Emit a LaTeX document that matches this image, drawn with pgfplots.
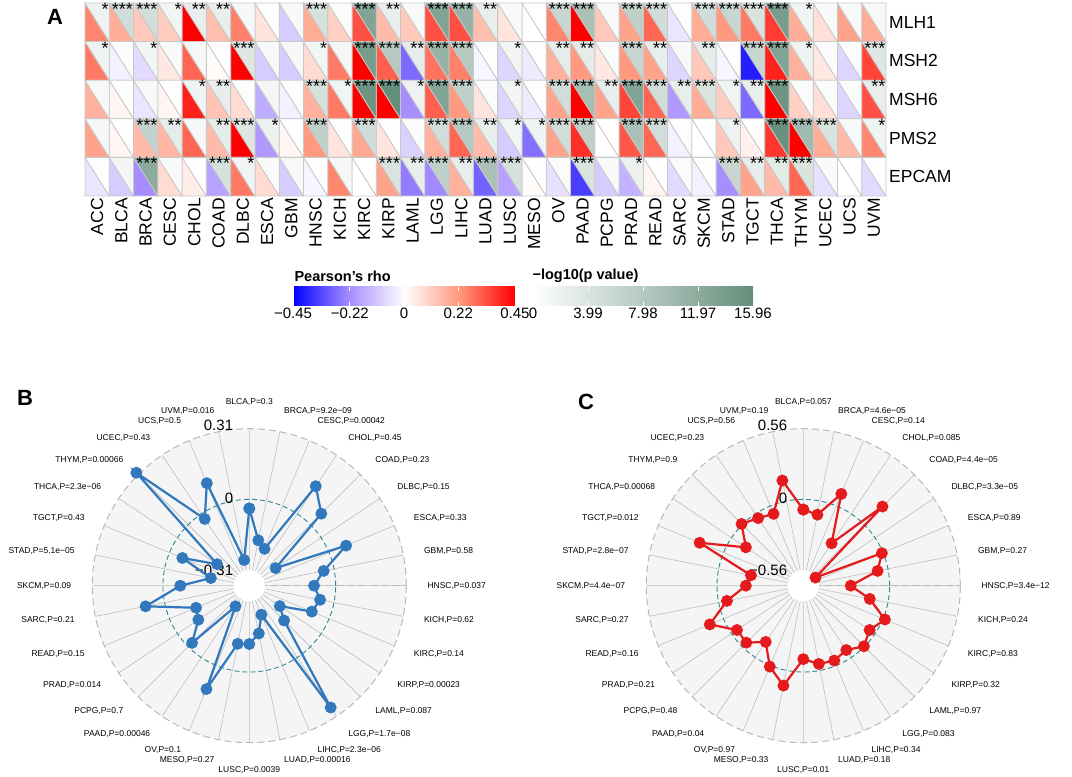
\documentclass[border=0pt]{standalone}
\usepackage{fontspec}
\setmainfont{Liberation Sans}
\usepackage{pgfplots}
\pgfplotsset{compat=1.18}
\usepackage{pgfplotstable}
\usepgfplotslibrary{polar}

\definecolor{gridgray}{RGB}{200,200,200}
\definecolor{radblue}{RGB}{49,120,189}
\definecolor{radred}{RGB}{228,26,28}
\definecolor{radteal}{RGB}{45,135,145}
\definecolor{radbg}{RGB}{245,245,245}
\definecolor{spoke}{RGB}{190,190,190}

% one heatmap cell is 24.27pt x 38.6pt
\pgfdeclareplotmark{lowtri}{%
  \pgfpathmoveto{\pgfqpoint{-12.135pt}{19.3pt}}%
  \pgfpathlineto{\pgfqpoint{-12.135pt}{-19.3pt}}%
  \pgfpathlineto{\pgfqpoint{12.135pt}{-19.3pt}}%
  \pgfpathclose\pgfusepathqfillstroke}
\pgfdeclareplotmark{uptri}{%
  \pgfpathmoveto{\pgfqpoint{-12.135pt}{19.3pt}}%
  \pgfpathlineto{\pgfqpoint{12.135pt}{19.3pt}}%
  \pgfpathlineto{\pgfqpoint{12.135pt}{-19.3pt}}%
  \pgfpathclose\pgfusepathqfillstroke}

% r = Pearson's rho, p = -log10(p), s = number of stars
% 1 MLH1, 2 MSH2, 3 MSH6, 4 PMS2, 5 EPCAM
\pgfplotstableread{
name r1 r2 r3 r4 r5 p1 p2 p3 p4 p5 s1 s2 s3 s4 s5
ACC   0.25  0.27  0.17  0.20 -0.05  1.8 1.8 0.9 1.0 0.3  1 1 0 0 0
BLCA  0.18 -0.03  0.02  0.02 -0.10  5.0 0.4 0.2 0.2 1.3  3 0 0 0 0
BRCA  0.12 -0.07 -0.05  0.15 -0.22  5.0 1.5 0.9 6.5 12   3 1 0 3 3
CESC  0.11  0.05  0.02  0.16  0.08  1.5 0.6 0.2 2.8 0.6  1 0 0 2 0
CHOL  0.45  0.30  0.40  0.30  0.04  2.5 1.0 1.6 1.0 0.1  2 0 1 0 0
COAD  0.14  0.01  0.13  0.15 -0.18  2.5 0.1 2.5 2.8 4.5  2 0 2 2 3
DLBC  0.26  0.45  0.08  0.45  0.27  1.0 3.5 0.3 3.5 1.5  0 3 0 3 1
ESCA  0.06 -0.10 -0.16 -0.20  0.08  0.3 0.9 1.3 2.0 0.6  0 0 0 1 0
GBM  -0.10 -0.10 -0.03  0.02 -0.10  0.8 0.9 0.3 0.2 0.9  0 0 0 0 0
HNSC  0.18  0.08  0.17  0.22 -0.02  4.5 1.5 4.5 7.0 0.2  3 1 3 3 0
KICH  0.10  0.27  0.27  0.06  0.25  0.5 1.2 1.6 0.3 1.0  0 0 1 0 0
KIRC  0.33  0.45  0.45  0.19  0.00  13  14  15  5.0 0.0  3 3 3 3 0
KIRP  0.15  0.31  0.45  0.06  0.20  2.5 8.0 15.96 0.2 4.0  2 3 3 0 3
LAML  0.12 -0.28 -0.22 -0.09 -0.25  0.8 2.8 1.8 0.5 2.5  0 2 1 0 2
LGG   0.33  0.28  0.31  0.17 -0.23  13  11  13  5.0 7.0  3 3 3 3 3
LIHC  0.33  0.26  0.22  0.30  0.17  11  8.0 7.0 8.0 2.5  3 3 3 3 2
LUAD  0.14 -0.02  0.06  0.15 -0.29  2.5 0.3 0.5 2.5 9.0  2 0 0 2 3
LUSC  0.06 -0.08 -0.08 -0.10 -0.18  0.6 1.5 1.5 1.6 4.5  0 1 1 1 3
MESO  0.00 -0.04 -0.04 -0.27  0.01  0.0 0.3 0.2 1.7 0.1  0 0 0 1 0
OV    0.25  0.17  0.20  0.20 -0.06  6.0 2.8 5.0 5.0 0.5  3 2 3 3 0
PAAD  0.45  0.22  0.45  0.38 -0.35  9.0 2.8 9.5 7.0 4.0  3 2 3 3 3
PCPG  0.12  0.05  0.20  0.00 -0.10  0.8 0.5 2.5 0.0 0.8  0 0 2 0 0
PRAD  0.20  0.22  0.35  0.32 -0.15  7.0 6.0 13  9.0 2.0  3 3 3 3 1
READ  0.30  0.20  0.30  0.30  0.02  5.0 2.5 5.0 5.0 0.1  3 2 3 3 0
SARC -0.05 -0.08 -0.20 -0.03 -0.07  0.3 0.9 2.5 0.3 0.5  0 0 2 0 0
SKCM  0.18  0.12  0.18  0.00 -0.03  5.0 2.8 4.0 0.0 0.3  3 2 3 0 0
STAD  0.22 -0.02  0.11  0.12 -0.22  6.0 0.2 1.6 1.8 6.0  3 0 1 1 3
TGCT  0.27 -0.40 -0.28  0.03  0.20  4.0 6.0 2.5 0.2 2.6  3 3 2 0 2
THCA  0.36  0.40  0.45  0.37  0.15  14  13  15  15.5 3.0  3 3 3 3 2
THYM  0.18  0.17  0.10  0.45  0.30  1.6 1.8 0.5 10  4.0  1 1 0 3 3
UCEC  0.07  0.05  0.07  0.18 -0.06  0.6 0.5 0.5 4.0 0.6  0 0 0 3 0
UCS   0.20 -0.08 -0.08  0.15  0.00  0.8 0.3 0.4 0.8 0.0  0 0 0 0 0
UVM   0.18  0.35  0.33  0.25 -0.07  0.9 3.5 2.5 1.6 0.3  0 3 2 1 0
}\heat

% radar data: angle (deg), rho ; first row repeated to close the polygon
\pgfplotstableread{
ang rho
90     -0.040
78.75  -0.176
67.5   -0.204
56.25   0.146
45      0.068
33.75  -0.240
22.5    0.081
11.25  -0.046
0      -0.095
348.75 -0.062
337.5  -0.082
326.25 -0.218
315    -0.163
303.75  0.264
292.5  -0.241
281.25 -0.165
270    -0.123
258.75 -0.119
247.5   0.112
236.25 -0.270
225    -0.024
213.75 -0.110
202.5  -0.126
191.25  0.085
180    -0.076
168.75 -0.207
157.5  -0.061
146.25 -0.209
135     0.322
123.75 -0.027
112.5   0.108
101.25 -0.264
90     -0.040
}\radB

\pgfplotstableread{
ang rho
90     -0.081
78.75  -0.110
67.5    0.103
56.25  -0.280
45      0.203
33.75  -0.568
22.5   -0.010
11.25  -0.084
0      -0.308
348.75 -0.147
337.5   0.016
326.25 -0.052
315    -0.005
303.75 -0.071
292.5  -0.042
281.25 -0.052
270    -0.102
258.75  0.123
247.5   0.010
236.25 -0.148
225    -0.046
213.75 -0.052
202.5   0.118
191.25 -0.067
180    -0.229
168.75 -0.261
157.5   0.205
146.25 -0.137
135     0.008
123.75 -0.040
112.5  -0.068
101.25  0.166
90     -0.081
}\radC

\pgfplotsset{
  radar/.style={
    scale only axis, width=314pt, height=314pt,
    xmin=0, xmax=360, ymin=0,
    xtick={0,11.25,22.5,33.75,45,56.25,67.5,78.75,90,101.25,112.5,123.75,135,146.25,157.5,168.75,180,191.25,202.5,213.75,225,236.25,247.5,258.75,270,281.25,292.5,303.75,315,326.25,337.5,348.75},
    xticklabels={}, yticklabels={},
    xmajorgrids, x grid style={spoke, line width=0.6pt},
    ymajorgrids, y grid style={radteal, line width=0.9pt, dash pattern=on 5pt off 3pt},
    axis line style={gray!55, line width=1pt, dash pattern=on 7pt off 4pt},
    major tick length=0pt,
    axis background/.style={fill=radbg},
    clip=false,
  },
}
\tikzset{
  rlab/.style={anchor=east, xshift=-16pt, font=\fontsize{15}{15}\selectfont, inner sep=0pt},
  clab/.style={font=\fontsize{8.5}{8.5}\selectfont, inner sep=0pt},
}

\newcommand\stars{\pgfmathfloattoint{\pgfplotspointmeta}\ifcase\pgfmathresult\or*\or**\or***\fi}

\begin{document}
\begin{tikzpicture}
\useasboundingbox (0,0) rectangle (1072pt,777pt);

% ---------- A: rho triangles ----------
\begin{axis}[
  at={(85pt,581pt)}, anchor=south west,
  scale only axis, width=801pt, height=193pt,
  xmin=-0.5, xmax=32.5, ymin=-0.5, ymax=4.5,
  axis line style={draw=none}, major tick length=0pt,
  xtick={0,...,32}, xticklabels from table={\heat}{name},
  xticklabel style={rotate=90, anchor=east, font=\fontsize{17.5}{17.5}\selectfont, inner sep=2pt},
  ytick={0,...,4}, yticklabels={EPCAM,PMS2,MSH6,MSH2,MLH1},
  yticklabel pos=right,
  yticklabel style={anchor=west, font=\fontsize{17.5}{17.5}\selectfont, inner sep=3pt},
  colormap={rb}{rgb255(0cm)=(0,0,255) rgb255(1cm)=(165,140,255) rgb255(2cm)=(255,255,255) rgb255(3cm)=(255,152,125) rgb255(4cm)=(255,0,0)},
  point meta min=-0.45, point meta max=0.45,
  colorbar horizontal, colorbar/width=19pt,
  colorbar style={
    at={(parent axis.south west)}, anchor=north west, xshift=208pt, yshift=-82pt,
    scale only axis, width=222pt, height=19pt,
    xtick={-0.45,-0.22,0,0.22,0.45},
    xticklabels={−0.45,−0.22,0,0.22,0.45},
    xticklabel style={font=\fontsize{15}{15}\selectfont, inner sep=2pt},
    axis line style={draw=none},
    xtick style={draw=white, line width=0.8pt},
    major tick length=4pt, tick align=inside,
  },
  clip=false,
]
\pgfplotsinvokeforeach{1,...,5}{
  \addplot[scatter, only marks, mark=lowtri, point meta=explicit,
    mark options={line width=0.8pt},
    scatter/use mapped color={draw=gridgray, fill=mapped color}]
    table[x expr=\coordindex, y expr={5-#1}, meta=r#1] {\heat};
}
\end{axis}

% ---------- A: -log10(p) triangles and stars ----------
\begin{axis}[
  at={(85pt,581pt)}, anchor=south west,
  scale only axis, width=801pt, height=193pt,
  xmin=-0.5, xmax=32.5, ymin=-0.5, ymax=4.5,
  axis line style={draw=none}, xtick=\empty, ytick=\empty,
  colormap={gr}{rgb255(0cm)=(255,255,255) rgb255(1cm)=(181,201,192) rgb255(2cm)=(100,142,124)},
  point meta min=0, point meta max=15.96,
  colorbar horizontal, colorbar/width=19pt,
  colorbar style={
    at={(parent axis.south west)}, anchor=north west, xshift=448pt, yshift=-82pt,
    scale only axis, width=220pt, height=19pt,
    xtick={0,3.99,7.98,11.97,15.96},
    xticklabels={0,3.99,7.98,11.97,15.96},
    xticklabel style={font=\fontsize{15}{15}\selectfont, inner sep=2pt},
    axis line style={draw=none},
    xtick style={draw=white, line width=0.8pt},
    major tick length=4pt, tick align=inside,
  },
  clip=false,
]
\pgfplotsinvokeforeach{1,...,5}{
  \addplot[scatter, only marks, mark=uptri, point meta=explicit,
    mark options={line width=0.8pt},
    scatter/use mapped color={draw=gridgray, fill=mapped color}]
    table[x expr=\coordindex, y expr={5-#1}, meta=p#1] {\heat};
  \addplot[draw=none, mark=none, point meta=\thisrow{s#1},
    nodes near coords={\stars},
    nodes near coords style={anchor=north east, xshift=12.1pt, yshift=19.6pt,
      font=\fontsize{18}{18}\selectfont, inner sep=0.3pt}]
    table[x expr=\coordindex, y expr={5-#1}] {\heat};
}
\end{axis}

\node[anchor=west, font=\bfseries\fontsize{14.5}{14.5}\selectfont] at (291pt,501pt) {Pearson's rho};
\node[anchor=west, font=\bfseries\fontsize{14.5}{14.5}\selectfont] at (529pt,501pt) {−log10(p value)};

\node[font=\bfseries\fontsize{22}{22}\selectfont] at (55pt,760pt) {A};
\node[font=\bfseries\fontsize{22}{22}\selectfont] at (25pt,379pt) {B};
\node[font=\bfseries\fontsize{22}{22}\selectfont] at (586pt,375pt) {C};

% ---------- B ----------
\begin{polaraxis}[radar,
  at={(249.3pt,191.3pt)}, anchor=origin,
  ymax=0.689, ytick={0.379},
]
\fill[white] (axis cs:0,0) circle[radius=15.7pt];
\node[rlab] at (axis cs:90,0.689) [yshift=3pt] {0.31};
\node[rlab] at (axis cs:90,0.379) [yshift=1.5pt] {0};
\node[rlab] at (axis cs:90,0.069) {−0.31};
\addplot[radblue, line width=2.2pt, mark=*, mark size=4.8pt]
  table[x=ang, y expr=\thisrow{rho}+0.379] {\radB};
\end{polaraxis}
\foreach \a/\t in {0/{HNSC,P=0.037},11.25/{GBM,P=0.58},22.5/{ESCA,P=0.33},33.75/{DLBC,P=0.15},45/{COAD,P=0.23},56.25/{CHOL,P=0.45},67.5/{CESC,P=0.00042},78.75/{BRCA,P=9.2e−09},
  281.25/{LUAD,P=0.00016},292.5/{LIHC,P=2.3e−06},303.75/{LGG,P=1.7e−08},315/{LAML,P=0.087},326.25/{KIRP,P=0.00023},337.5/{KIRC,P=0.14},348.75/{KICH,P=0.62}}
  \node[clab, anchor=west] at ([shift={(\a:178pt)}]249.3pt,191.3pt) {\t};
\foreach \a/\t in {101.25/{UVM,P=0.016},112.5/{UCS,P=0.5},123.75/{UCEC,P=0.43},135/{THYM,P=0.00066},146.25/{THCA,P=2.3e−06},157.5/{TGCT,P=0.43},168.75/{STAD,P=5.1e−05},180/{SKCM,P=0.09},191.25/{SARC,P=0.21},202.5/{READ,P=0.15},213.75/{PRAD,P=0.014},225/{PCPG,P=0.7},236.25/{PAAD,P=0.00046},247.5/{OV,P=0.1},258.75/{MESO,P=0.27}}
  \node[clab, anchor=east] at ([shift={(\a:178pt)}]249.3pt,191.3pt) {\t};
\node[clab] at ([shift={(90:184pt)}]249.3pt,191.3pt) {BLCA,P=0.3};
\node[clab] at ([shift={(270:184pt)}]249.3pt,191.3pt) {LUSC,P=0.0039};

% ---------- C ----------
\begin{polaraxis}[radar,
  at={(803.3pt,191.3pt)}, anchor=origin,
  ymax=1.244, ytick={0.684},
]
\fill[white] (axis cs:0,0) circle[radius=15.7pt];
\node[rlab] at (axis cs:90,1.244) [yshift=3pt] {0.56};
\node[rlab] at (axis cs:90,0.684) [yshift=1.5pt] {0};
\node[rlab] at (axis cs:90,0.124) {−0.56};
\addplot[radred, line width=2.2pt, mark=*, mark size=4.8pt]
  table[x=ang, y expr=\thisrow{rho}+0.684] {\radC};
\end{polaraxis}
\foreach \a/\t in {0/{HNSC,P=3.4e−12},11.25/{GBM,P=0.27},22.5/{ESCA,P=0.89},33.75/{DLBC,P=3.3e−05},45/{COAD,P=4.4e−05},56.25/{CHOL,P=0.085},67.5/{CESC,P=0.14},78.75/{BRCA,P=4.6e−05},
  281.25/{LUAD,P=0.18},292.5/{LIHC,P=0.34},303.75/{LGG,P=0.083},315/{LAML,P=0.97},326.25/{KIRP,P=0.32},337.5/{KIRC,P=0.83},348.75/{KICH,P=0.24}}
  \node[clab, anchor=west] at ([shift={(\a:178pt)}]803.3pt,191.3pt) {\t};
\foreach \a/\t in {101.25/{UVM,P=0.19},112.5/{UCS,P=0.56},123.75/{UCEC,P=0.23},135/{THYM,P=0.9},146.25/{THCA,P=0.00068},157.5/{TGCT,P=0.012},168.75/{STAD,P=2.8e−07},180/{SKCM,P=4.4e−07},191.25/{SARC,P=0.27},202.5/{READ,P=0.16},213.75/{PRAD,P=0.21},225/{PCPG,P=0.48},236.25/{PAAD,P=0.04},247.5/{OV,P=0.97},258.75/{MESO,P=0.33}}
  \node[clab, anchor=east] at ([shift={(\a:178pt)}]803.3pt,191.3pt) {\t};
\node[clab] at ([shift={(90:184pt)}]803.3pt,191.3pt) {BLCA,P=0.057};
\node[clab] at ([shift={(270:184pt)}]803.3pt,191.3pt) {LUSC,P=0.01};
\end{tikzpicture}
\end{document}
